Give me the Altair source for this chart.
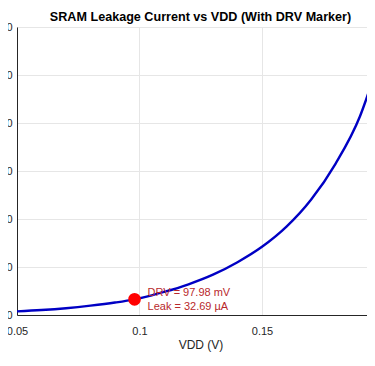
import altair as alt
import pandas as pd

# Curve (VDD in volts, leakage in µA)
vdd_v = [0.050, 0.060, 0.070, 0.080, 0.090, 0.098, 0.105, 0.110, 0.120, 0.130,
         0.140, 0.150, 0.160, 0.170, 0.180, 0.190, 0.1962]
leak_ua = [7.5, 10.3, 14.2, 19.5, 26, 32.69, 41, 48, 64, 84,
           110, 142, 184, 240, 315, 414, 505]

# DRV marker
drv_v = [0.09798]
drv_leak = [32.69]
drv_line1 = ["DRV = 97.98 mV"]
drv_line2 = ["Leak = 32.69 µA"]

x_ticks = [0.05, 0.1, 0.15]
y_ticks = [0, 100, 200, 300, 400, 500, 600]

curve = pd.DataFrame({"vdd": vdd_v, "leak": leak_ua})
marker = pd.DataFrame({"vdd": drv_v, "leak": drv_leak,
                       "t1": drv_line1, "t2": drv_line2})

FONT = "Liberation Sans"
INK = "#262626"

xscale = alt.Scale(domain=[0.05, 0.19286], nice=False, zero=False)
yscale = alt.Scale(domain=[0, 600], nice=False)

xaxis = alt.Axis(values=x_ticks, format=".2~f", title="VDD (V)",
                 labelFontSize=11, labelColor=INK, labelFont=FONT,
                 labelPadding=10, labelFlush=False, ticks=False, tickSize=0,
                 domainColor=INK, gridColor="#e6e6e6",
                 titleFont=FONT, titleFontSize=12, titleFontWeight="normal",
                 titleColor=INK, titleX=183.5, titleY=29,
                 titleBaseline="middle", titleAnchor="start", titleAlign="center")
yaxis = alt.Axis(values=y_ticks, title=None, labelFontSize=11, labelColor=INK,
                 labelFont=FONT, labelPadding=5, ticks=False, tickSize=0,
                 domainColor=INK, gridColor="#e6e6e6")

line = alt.Chart(curve).mark_line(
    color="#0000c4", strokeWidth=2.4, interpolate="monotone", clip=True
).encode(
    x=alt.X("vdd:Q", scale=xscale, axis=xaxis),
    y=alt.Y("leak:Q", scale=yscale, axis=yaxis),
)

dot = alt.Chart(marker).mark_circle(color="#ff0000", opacity=1, size=160).encode(
    x=alt.X("vdd:Q", scale=xscale),
    y=alt.Y("leak:Q", scale=yscale),
)

txt1 = alt.Chart(marker).mark_text(
    align="left", baseline="middle", dx=13, dy=-6, fontSize=11,
    font=FONT, color="#b8282c"
).encode(x=alt.X("vdd:Q", scale=xscale), y=alt.Y("leak:Q", scale=yscale), text="t1:N")

txt2 = alt.Chart(marker).mark_text(
    align="left", baseline="middle", dx=13, dy=8, fontSize=11,
    font=FONT, color="#b8282c"
).encode(x=alt.X("vdd:Q", scale=xscale), y=alt.Y("leak:Q", scale=yscale), text="t2:N")

chart = alt.layer(line, dot, txt1, txt2).properties(
    width=350, height=288,
    title=alt.TitleParams(
        "SRAM Leakage Current vs VDD (With DRV Marker)",
        font=FONT, fontSize=12.6, fontWeight="bold", color="#000000",
        anchor="middle", dx=8.5, dy=12.5, offset=0, baseline="alphabetic",
    ),
    autosize=alt.AutoSizeParams(type="none"),
    padding={"left": 9, "top": 19, "right": 0, "bottom": 37},
).configure_view(stroke="#bdbdbd", strokeWidth=1)

chart.save("out.html", embed_options={"renderer": "svg", "actions": False})
